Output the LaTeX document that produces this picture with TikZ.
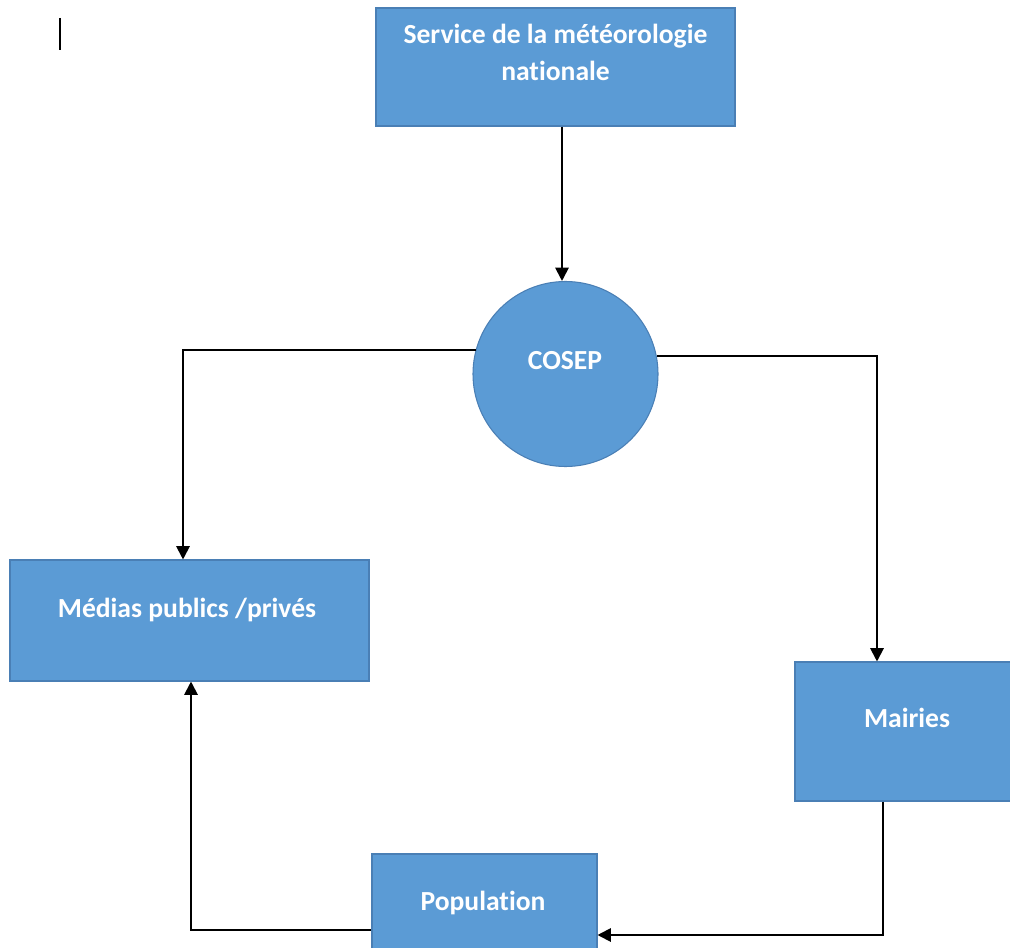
\documentclass[tikz,border=0pt]{standalone}
\usepackage{fontspec}
\setmainfont{Carlito}[Ligatures=NoCommon]
\usetikzlibrary{arrows.meta}
\definecolor{boxblue}{HTML}{5B9BD5}
\definecolor{boxedge}{HTML}{4A7FB5}
\tikzset{
  box/.style={draw=boxedge, line width=0.8pt, fill=boxblue, rectangle, inner sep=0pt},
  disc/.style={draw=boxedge, line width=0.8pt, fill=boxblue, circle, inner sep=0pt},
  lbl/.style={text=white, font=\bfseries\fontsize{20.7}{27.8}\selectfont, anchor=base, inner sep=0pt, align=center},
  link/.style={line width=1.5pt, black},
  arr/.style={link, -{Triangle[length=10pt, width=10pt]}}
}
\begin{document}
\begin{tikzpicture}[x=0.75pt, y=-0.75pt]
  \useasboundingbox (0,0) rectangle (1010,948);
  \clip (0,0) rectangle (1010,948);

  % text cursor mark at the top left
  \draw[line width=1.3pt] (60,18) -- (60,50);

  % boxes
  \node[box, minimum width=359*0.75pt, minimum height=118*0.75pt] (srv) at (555.5,67) {};
  \node[disc, minimum size=185*0.75pt] (cosep) at (565.5,374) {};
  \node[box, minimum width=359*0.75pt, minimum height=121*0.75pt] (medias) at (189.5,620.5) {};
  \node[box, minimum width=225*0.75pt, minimum height=139*0.75pt] (mairies) at (907.5,731.5) {};
  \node[box, minimum width=225*0.75pt, minimum height=110*0.75pt] (pop) at (484.5,909) {};

  % labels (the base anchor of a two-line label sits on its last line)
  \node[lbl] (srvtxt) at (555.5,81) {Service de la météorologie\\nationale};
  \node[lbl] (cosetxt) at (565,370) {COSEP};
  \node[lbl] (medtxt) at (187,617) {Médias publics /privés};
  \node[lbl] (maitxt) at (907,727) {Mairies};
  \node[lbl] (poptxt) at (483,910) {Population};

  % connectors
  \coordinate (srvout) at ([xshift=6.5*0.75pt]srv.south);
  \draw[arr] (srvout) -- (srvout |- cosep.north);
  \draw[arr] (cosep.165.6) -| ([xshift=-6.5*0.75pt]medias.north);
  \draw[arr] (cosep.11.9) -| ([xshift=-30.5*0.75pt]mairies.north);
  \coordinate (turnbr) at (883,935);
  \draw[arr] ([xshift=-24.5*0.75pt]mairies.south) -- (turnbr) -- (turnbr -| pop.east);
  \coordinate (turnbl) at (191,930);
  \draw[arr] (turnbl -| pop.west) -- (turnbl) -- (turnbl |- medias.south);
\end{tikzpicture}
\end{document}
